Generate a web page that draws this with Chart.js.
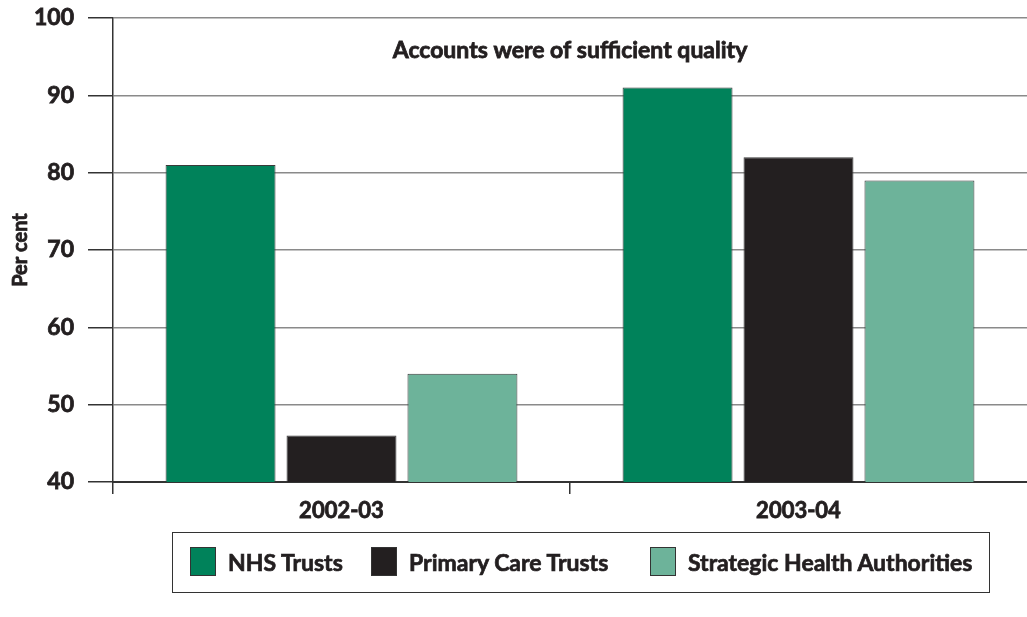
<!DOCTYPE html>
<html>
<head>
<meta charset="utf-8">
<script src="https://cdn.jsdelivr.net/npm/chart.js@4"></script>
<style>
  html, body { margin: 0; padding: 0; background: #fff; }
  #wrap { position: relative; width: 1027px; height: 617px; }
  #legend {
    position: absolute; left: 172px; top: 532px; width: 816px; height: 59px;
    border: 1.5px solid #333;
    font: bold 23px Lato, sans-serif; color: #231f20;
    -webkit-text-stroke: 0.7px #231f20;
  }
  .item { display: flex; align-items: center; position: absolute; top: 14px; white-space: nowrap; }
  .swatch { width: 26px; height: 29px; border: 1.5px solid #333; box-sizing: border-box; margin-right: 12px; }
</style>
</head>
<body>
<div id="wrap">
  <canvas id="chart" width="1027" height="617"></canvas>
  <div id="legend"></div>
</div>
<script>
// Chart data
const categories = ['2002-03', '2003-04'];
const nhsTrusts = [81, 91];
const primaryCareTrusts = [46, 82];
const strategicHealth = [54, 79];
const yTicks = [40, 50, 60, 70, 80, 90, 100];
const seriesNames = ['NHS Trusts', 'Primary Care Trusts', 'Strategic Health Authorities'];
const colors = ['#00825a', '#231f20', '#6db39a'];

const FONT = 'Lato, sans-serif';
const INK = '#231f20';

// Heavier text: fill plus a thin stroke
function boldText(ctx, text, x, y, size) {
  ctx.font = 'bold ' + size + 'px ' + FONT;
  ctx.fillStyle = INK;
  ctx.strokeStyle = INK;
  ctx.lineWidth = 0.8;
  ctx.textAlign = 'center';
  ctx.textBaseline = 'middle';
  ctx.fillText(text, x, y);
  ctx.strokeText(text, x, y);
}

// Title inside the plot area and the rotated axis title
const extraText = {
  id: 'extraText',
  afterDraw(chart) {
    const { ctx, chartArea } = chart;
    ctx.save();
    boldText(ctx, 'Accounts were of sufficient quality', (chartArea.left + chartArea.right) / 2, 51, 23);
    ctx.translate(21, (chartArea.top + chartArea.bottom) / 2);
    ctx.rotate(-Math.PI / 2);
    boldText(ctx, 'Per cent', 0, 0, 20);
    ctx.restore();
  }
};

const datasets = [nhsTrusts, primaryCareTrusts, strategicHealth].map((values, i) => ({
  label: seriesNames[i],
  data: values,
  backgroundColor: colors[i],
  borderColor: '#3a3a3a',
  borderWidth: 1,
  categoryPercentage: 0.794,
  barPercentage: 0.909,
}));

new Chart(document.getElementById('chart'), {
  type: 'bar',
  data: { labels: categories, datasets: datasets },
  plugins: [extraText],
  options: {
    responsive: false,
    animation: false,
    layout: { padding: { top: 18, right: 0, left: 0, bottom: 0 } },
    plugins: {
      legend: { display: false },
      tooltip: { enabled: false },
    },
    scales: {
      x: {
        grid: {
          offset: true,
          drawOnChartArea: false,
          tickLength: 12,
          // no tick mark at the right end of the axis
          tickColor: (c) => c.type === 'tick' ? '#333' : 'rgba(0,0,0,0)',
          lineWidth: 1.5,
        },
        border: { color: '#333', width: 2 },
        ticks: {
          color: INK,
          padding: 4,
          textStrokeColor: INK,
          textStrokeWidth: 0.8,
          font: { family: FONT, size: 22, weight: 'bold' },
        },
        afterFit(scale) {
          scale.height = 617 - 482;
          scale.paddingLeft = 0;
          scale.paddingRight = 0;
        },
      },
      y: {
        min: 40,
        max: 100,
        afterBuildTicks(scale) { scale.ticks = yTicks.map(v => ({ value: v })); },
        grid: {
          color: '#8a8a8a',
          tickColor: '#333',
          lineWidth: 1.5,
          tickLength: 25,
        },
        border: { color: '#333', width: 1.5 },
        ticks: {
          color: INK,
          padding: 14,
          textStrokeColor: INK,
          textStrokeWidth: 0.8,
          font: { family: FONT, size: 23, weight: 'bold' },
        },
        afterFit(scale) {
          scale.width = 113;
          scale.paddingTop = 0;
          scale.paddingBottom = 0;
        },
      },
    },
  },
});

// HTML legend built from the series
const legend = document.getElementById('legend');
const itemLeft = [17, 198, 477];
seriesNames.forEach((name, i) => {
  const item = document.createElement('div');
  item.className = 'item';
  item.style.left = itemLeft[i] + 'px';
  const sw = document.createElement('div');
  sw.className = 'swatch';
  sw.style.background = colors[i];
  const txt = document.createElement('span');
  txt.textContent = name;
  item.appendChild(sw);
  item.appendChild(txt);
  legend.appendChild(item);
});
</script>
</body>
</html>
